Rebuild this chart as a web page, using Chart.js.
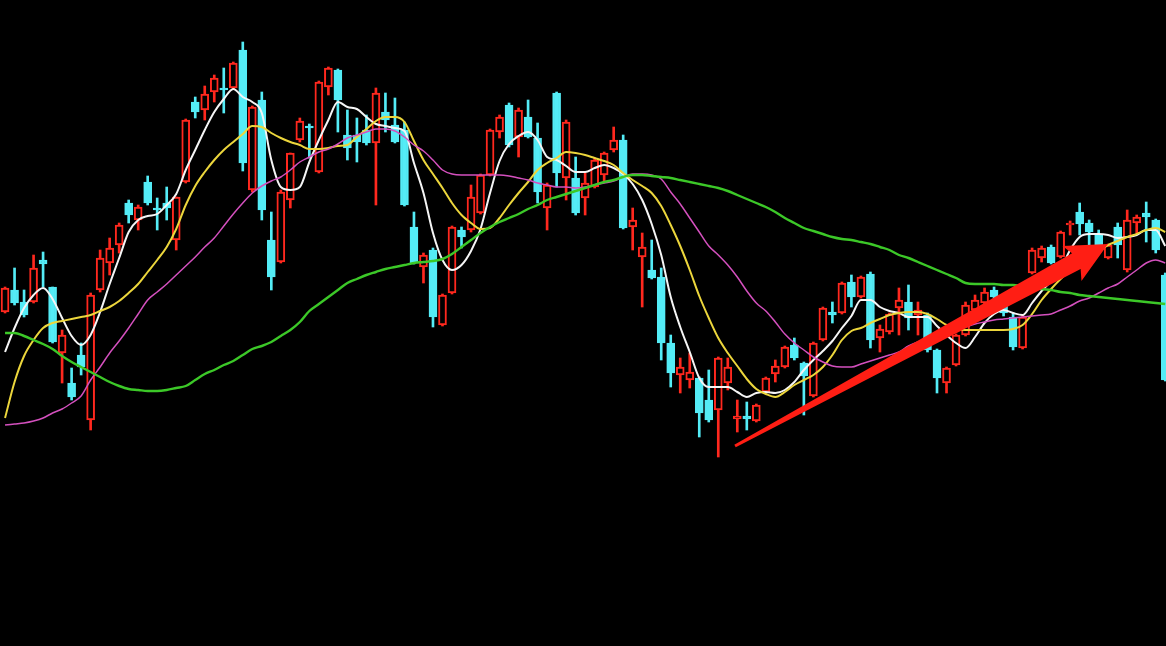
<!DOCTYPE html>
<html>
<head>
<meta charset="utf-8">
<title>K線走勢圖</title>
<script src="https://cdn.jsdelivr.net/npm/chart.js@4.4.1/dist/chart.umd.min.js"></script>
<style>
    html, body { margin: 0; padding: 0; background: #000; overflow: hidden; }
    #wrap { width: 1166px; height: 646px; position: relative; }
</style>
</head>
<body>
<div id="wrap"><canvas id="chartCanvas"></canvas></div>
<script>
// 日K資料
const candleOpen = [
    16.70, 17.80, 17.20, 17.20, 19.30, 17.95, 14.65, 13.15, 14.55, 11.30,
    17.80, 19.15, 20.05, 22.15, 21.30, 23.20, 21.90, 22.15, 20.30, 23.20,
    27.20, 26.80, 27.70, 27.90, 27.90, 29.80, 22.80, 27.30, 20.30, 19.20,
    22.30, 25.30, 26.00, 23.70, 27.95, 28.80, 25.55, 25.55, 25.80, 25.15,
    26.70, 26.05, 25.80, 20.95, 18.95, 19.80, 16.05, 17.65, 20.80, 20.80,
    21.65, 23.55, 25.70, 27.05, 25.45, 26.45, 25.40, 21.90, 27.65, 23.40,
    23.40, 22.40, 22.95, 23.55, 24.80, 25.30, 20.95, 19.45, 18.80, 18.45,
    15.15, 13.55, 13.30, 13.40, 12.30, 11.80, 13.15, 11.35, 11.50, 11.25,
    12.70, 13.60, 13.95, 15.05, 14.15, 12.50, 15.30, 16.70, 16.65, 18.20,
    17.45, 18.60, 15.40, 15.70, 16.90, 17.20, 16.55, 16.55, 14.80, 13.15,
    14.05, 15.55, 16.80, 17.15, 17.80, 17.05, 16.45, 14.90, 18.65, 19.40,
    19.95, 19.45, 21.05, 21.70, 21.15, 20.55, 19.40, 20.95, 18.80, 21.15,
    21.65, 21.30, 18.55
];
const candleClose = [
    17.90, 17.15, 16.55, 18.90, 19.10, 15.20, 15.55, 12.45, 13.95, 17.55,
    19.40, 19.90, 21.05, 21.55, 21.95, 22.15, 21.80, 21.90, 22.45, 26.30,
    26.70, 27.60, 28.40, 27.80, 29.15, 24.15, 26.95, 21.80, 18.45, 22.70,
    24.65, 26.25, 25.90, 28.20, 28.90, 27.30, 24.90, 25.20, 25.15, 27.65,
    26.30, 25.20, 22.05, 19.15, 19.55, 16.45, 17.55, 20.95, 20.45, 22.45,
    23.55, 25.80, 26.45, 25.05, 26.80, 25.45, 22.70, 23.05, 23.65, 26.20,
    21.65, 23.15, 24.30, 24.65, 25.30, 20.90, 21.30, 19.95, 18.40, 15.15,
    13.65, 13.95, 13.70, 11.65, 11.30, 14.40, 13.95, 11.50, 11.35, 12.05,
    13.40, 14.00, 14.95, 14.40, 13.50, 15.15, 16.90, 16.55, 18.15, 17.45,
    18.45, 15.30, 15.85, 16.60, 17.30, 16.40, 16.80, 14.80, 13.40, 13.90,
    15.55, 17.05, 17.30, 17.70, 17.45, 16.65, 14.95, 16.45, 19.80, 19.90,
    19.15, 20.70, 21.15, 21.10, 20.70, 20.00, 20.05, 20.05, 21.30, 21.45,
    21.45, 19.80, 13.30
];
const candleHigh = [
    17.95, 18.90, 17.80, 19.55, 19.70, 17.95, 15.80, 13.90, 15.15, 17.65,
    19.80, 20.40, 21.15, 22.30, 22.05, 23.50, 22.40, 22.95, 22.45, 26.35,
    27.45, 28.00, 28.55, 28.90, 29.20, 30.20, 27.00, 27.70, 21.70, 22.80,
    24.65, 26.40, 26.10, 28.25, 28.95, 28.85, 26.80, 26.40, 26.55, 27.90,
    27.65, 27.40, 26.20, 21.70, 19.65, 19.90, 17.60, 21.00, 20.95, 23.05,
    23.60, 25.85, 26.55, 27.15, 26.90, 27.30, 26.15, 23.15, 27.70, 26.30,
    24.45, 23.65, 24.40, 24.70, 25.95, 25.55, 21.90, 20.65, 20.30, 18.90,
    15.55, 14.40, 14.65, 13.45, 13.80, 14.45, 14.40, 12.30, 12.20, 12.10,
    13.45, 14.30, 15.00, 15.40, 14.20, 15.20, 16.95, 17.20, 18.20, 18.55,
    18.50, 18.70, 16.05, 16.65, 17.90, 18.05, 17.20, 16.65, 14.85, 13.95,
    15.60, 17.20, 17.55, 17.90, 17.95, 17.30, 16.65, 16.55, 19.90, 20.00,
    20.05, 20.75, 21.25, 22.15, 21.30, 20.80, 20.10, 21.15, 21.80, 21.55,
    22.20, 21.35, 18.65
];
const candleLow = [
    16.65, 17.05, 16.45, 17.15, 17.95, 15.15, 13.15, 12.30, 13.55, 10.80,
    17.70, 18.55, 19.65, 21.15, 20.80, 22.05, 20.80, 21.30, 19.80, 23.15,
    26.40, 26.30, 27.20, 26.65, 27.85, 23.75, 22.70, 21.30, 17.80, 19.15,
    21.90, 25.20, 24.40, 23.65, 27.55, 25.70, 24.30, 24.20, 25.05, 22.05,
    25.70, 25.15, 22.00, 19.10, 18.15, 15.95, 16.00, 17.60, 19.90, 20.70,
    21.60, 23.50, 25.40, 24.95, 24.45, 25.40, 22.15, 20.80, 22.95, 22.30,
    21.55, 21.55, 22.90, 23.25, 24.70, 20.85, 19.80, 16.95, 18.35, 14.30,
    12.95, 12.65, 12.90, 10.45, 11.20, 9.45, 12.80, 10.70, 10.80, 11.20,
    12.65, 13.20, 13.90, 14.30, 11.55, 12.45, 15.25, 16.15, 16.60, 16.95,
    17.40, 14.90, 14.70, 15.60, 15.55, 15.80, 15.55, 14.70, 12.65, 12.65,
    14.00, 15.50, 16.55, 17.05, 17.30, 16.50, 14.80, 14.85, 18.60, 19.20,
    19.10, 19.40, 20.55, 20.55, 20.05, 19.90, 19.35, 19.40, 18.70, 20.65,
    20.20, 19.65, 13.25
];

// 均線（白 MA5、黃 MA10、紫 MA20、綠 MA60）
const ma5 = [
    14.70, 15.90, 16.90, 17.55, 17.90, 17.35, 16.40, 15.50, 15.05, 15.55,
    16.70, 18.10, 19.40, 20.70, 21.30, 21.50, 21.60, 22.05, 22.60, 23.80,
    24.80, 25.80, 26.70, 27.35, 27.85, 27.45, 27.20, 26.65, 24.30, 22.95,
    22.80, 22.95, 24.20, 25.30, 26.30, 27.20, 26.95, 26.85, 26.45, 26.10,
    26.00, 25.90, 25.75, 24.15, 22.65, 20.65, 19.30, 18.80, 19.05, 19.75,
    20.85, 22.65, 24.25, 25.10, 25.50, 25.70, 25.30, 24.45, 24.30, 24.00,
    23.70, 23.70, 23.90, 24.05, 23.90, 23.60, 23.10, 22.30, 21.10, 19.55,
    17.45, 15.95, 14.70, 13.40, 12.95, 12.95, 12.95, 12.70, 12.45, 12.65,
    12.70, 12.65, 12.80, 13.20, 13.80, 14.30, 14.75, 15.25, 15.90, 16.50,
    17.30, 17.30, 16.95, 16.75, 16.65, 16.45, 16.45, 16.45, 16.00, 15.55,
    15.15, 14.90, 15.45, 16.15, 16.60, 16.80, 16.65, 16.55, 17.15, 17.75,
    18.25, 18.85, 19.80, 20.45, 20.60, 20.60, 20.55, 20.40, 20.45, 20.55,
    20.80, 20.80, 20.00
];
const ma10 = [
    11.40, 13.20, 14.50, 15.30, 15.90, 16.15, 16.25, 16.35, 16.45, 16.55,
    16.75, 16.95, 17.25, 17.65, 18.10, 18.70, 19.30, 19.95, 20.85, 22.05,
    23.00, 23.70, 24.30, 24.80, 25.20, 25.60, 26.00, 25.95, 25.65, 25.40,
    25.20, 25.05, 24.85, 24.85, 24.90, 25.00, 25.05, 25.45, 25.85, 26.25,
    26.45, 26.45, 26.20, 25.25, 24.30, 23.60, 22.90, 22.15, 21.55, 21.15,
    20.85, 20.90, 21.40, 22.05, 22.65, 23.20, 23.80, 24.15, 24.40, 24.70,
    24.65, 24.55, 24.40, 24.25, 24.05, 23.65, 23.30, 23.00, 22.65, 22.00,
    21.05, 20.00, 18.80, 17.50, 16.40, 15.40, 14.65, 14.00, 13.35, 12.85,
    12.60, 12.45, 12.70, 13.05, 13.30, 13.55, 13.95, 14.55, 15.30, 15.75,
    15.90, 16.15, 16.35, 16.55, 16.65, 16.70, 16.70, 16.60, 16.35, 16.05,
    15.85, 15.80, 15.80, 15.80, 15.80, 15.80, 15.85, 16.05, 16.60, 17.30,
    17.85, 18.35, 18.75, 19.15, 19.45, 19.75, 20.05, 20.25, 20.45, 20.60,
    20.80, 20.90, 20.70
];
const ma20 = [
    11.05, 11.10, 11.15, 11.25, 11.40, 11.65, 11.85, 12.15, 12.50, 13.30,
    13.95, 14.65, 15.25, 15.90, 16.60, 17.30, 17.70, 18.10, 18.55, 19.00,
    19.45, 19.95, 20.40, 21.00, 21.60, 22.15, 22.65, 23.00, 23.25, 23.45,
    23.80, 24.20, 24.45, 24.70, 24.85, 25.10, 25.40, 25.55, 25.70, 25.85,
    25.85, 25.75, 25.45, 25.05, 24.75, 24.30, 23.80, 23.60, 23.55, 23.55,
    23.55, 23.55, 23.55, 23.50, 23.40, 23.30, 23.15, 23.05, 22.95, 22.95,
    22.90, 22.95, 23.05, 23.15, 23.25, 23.45, 23.60, 23.60, 23.55, 23.35,
    22.70, 22.10, 21.40, 20.70, 20.00, 19.55, 19.05, 18.45, 17.75, 17.15,
    16.75, 16.20, 15.60, 15.15, 14.80, 14.45, 14.20, 14.00, 13.95, 13.95,
    14.10, 14.25, 14.40, 14.55, 14.70, 15.00, 15.20, 15.35, 15.55, 15.65,
    15.80, 15.95, 16.10, 16.20, 16.30, 16.35, 16.40, 16.45, 16.50, 16.55,
    16.60, 16.80, 17.00, 17.25, 17.40, 17.65, 17.90, 18.10, 18.45, 18.80,
    19.15, 19.30, 19.15
];
const ma60 = [
    15.65, 15.65, 15.50, 15.30, 15.10, 14.85, 14.50, 14.20, 13.95, 13.70,
    13.45, 13.20, 13.00, 12.85, 12.80, 12.75, 12.75, 12.80, 12.90, 13.00,
    13.30, 13.60, 13.80, 14.05, 14.25, 14.55, 14.85, 15.00, 15.20, 15.50,
    15.80, 16.20, 16.75, 17.10, 17.45, 17.80, 18.15, 18.35, 18.55, 18.70,
    18.85, 18.95, 19.05, 19.15, 19.20, 19.25, 19.35, 19.60, 19.95, 20.30,
    20.65, 20.95, 21.20, 21.40, 21.60, 21.85, 22.05, 22.30, 22.45, 22.60,
    22.75, 22.90, 23.05, 23.20, 23.30, 23.45, 23.55, 23.55, 23.50, 23.45,
    23.40, 23.30, 23.20, 23.10, 23.00, 22.90, 22.75, 22.55, 22.35, 22.15,
    21.95, 21.70, 21.40, 21.15, 20.90, 20.75, 20.60, 20.45, 20.35, 20.30,
    20.20, 20.10, 19.95, 19.80, 19.55, 19.40, 19.20, 19.00, 18.80, 18.60,
    18.40, 18.15, 18.10, 18.10, 18.10, 18.05, 18.05, 18.00, 17.95, 17.85,
    17.80, 17.70, 17.65, 17.55, 17.50, 17.45, 17.40, 17.35, 17.30, 17.25,
    17.20, 17.15, 17.10
];

// 箭頭起訖點（K線序號, 價格）
const arrowFrom = [76.76, 10.0];
const arrowTo = [115.98, 20.1];

const dayIndex = candleOpen.map((_, i) => i);

const UP_COLOR = 'rgb(255, 40, 30)';
const DOWN_COLOR = 'rgb(84, 236, 246)';

function isUp(i) {
    return candleClose[i] >= candleOpen[i];
}

// 畫紅色箭頭
const arrowPlugin = {
    id: 'trendArrow',
    afterDatasetsDraw(chart) {
        const { ctx, scales } = chart;
        const x0 = scales.x.getPixelForValue(arrowFrom[0]);
        const y0 = scales.y.getPixelForValue(arrowFrom[1]);
        const x1 = scales.x.getPixelForValue(arrowTo[0]);
        const y1 = scales.y.getPixelForValue(arrowTo[1]);
        const len = Math.hypot(x1 - x0, y1 - y0);
        const ux = (x1 - x0) / len, uy = (y1 - y0) / len;
        const nx = -uy, ny = ux;
        const headLen = 36, headHalf = 20, tailHalf = 1.5, shaftHalf = 9;
        const bx = x1 - ux * headLen, by = y1 - uy * headLen;

        ctx.save();
        ctx.fillStyle = 'rgb(255, 30, 20)';
        ctx.beginPath();
        ctx.moveTo(x0 + nx * tailHalf, y0 + ny * tailHalf);
        ctx.lineTo(bx + nx * shaftHalf, by + ny * shaftHalf);
        ctx.lineTo(bx - ux * 5 + nx * headHalf, by - uy * 5 + ny * headHalf);
        ctx.lineTo(x1, y1);
        ctx.lineTo(bx - ux * 5 - nx * headHalf, by - uy * 5 - ny * headHalf);
        ctx.lineTo(bx - nx * shaftHalf, by - ny * shaftHalf);
        ctx.lineTo(x0 - nx * tailHalf, y0 - ny * tailHalf);
        ctx.closePath();
        ctx.fill();
        ctx.restore();
    }
};

function maDataset(values, color, width) {
    return {
        type: 'line',
        data: dayIndex.map(i => ({ x: i, y: values[i] })),
        borderColor: color,
        borderWidth: width,
        pointRadius: 0,
        cubicInterpolationMode: 'monotone',
        order: 0
    };
}

const canvas = document.getElementById('chartCanvas');
new Chart(canvas, {
    type: 'bar',
    data: {
        datasets: [
            // 影線
            {
                data: dayIndex.map(i => ({ x: i, y: [candleLow[i], candleHigh[i]] })),
                backgroundColor: ctx => isUp(ctx.dataIndex) ? UP_COLOR : DOWN_COLOR,
                borderWidth: 0,
                barThickness: 2,
                grouped: false,
                order: 2
            },
            // 實體（陽線空心紅、陰線實心青）
            {
                data: dayIndex.map(i => ({ x: i, y: [candleOpen[i], candleClose[i]] })),
                backgroundColor: ctx => isUp(ctx.dataIndex) ? '#000' : DOWN_COLOR,
                borderColor: ctx => isUp(ctx.dataIndex) ? UP_COLOR : DOWN_COLOR,
                borderWidth: 2,
                borderSkipped: false,
                barThickness: 8,
                grouped: false,
                order: 1
            },
            maDataset(ma60, 'rgb(60, 200, 40)', 2.4),
            maDataset(ma20, 'rgb(212, 80, 190)', 1.5),
            maDataset(ma10, 'rgb(236, 214, 60)', 2),
            maDataset(ma5, 'rgb(245, 245, 245)', 2)
        ]
    },
    options: {
        responsive: true,
        maintainAspectRatio: false,
        animation: false,
        devicePixelRatio: 1,
        layout: { padding: 0 },
        plugins: {
            legend: { display: false },
            tooltip: { enabled: false }
        },
        scales: {
            x: {
                type: 'linear',
                display: false,
                offset: false,
                min: -0.53,
                max: 122.08
            },
            y: {
                display: false,
                min: 0,
                max: 32.3
            }
        }
    },
    plugins: [arrowPlugin]
});
</script>
</body>
</html>
